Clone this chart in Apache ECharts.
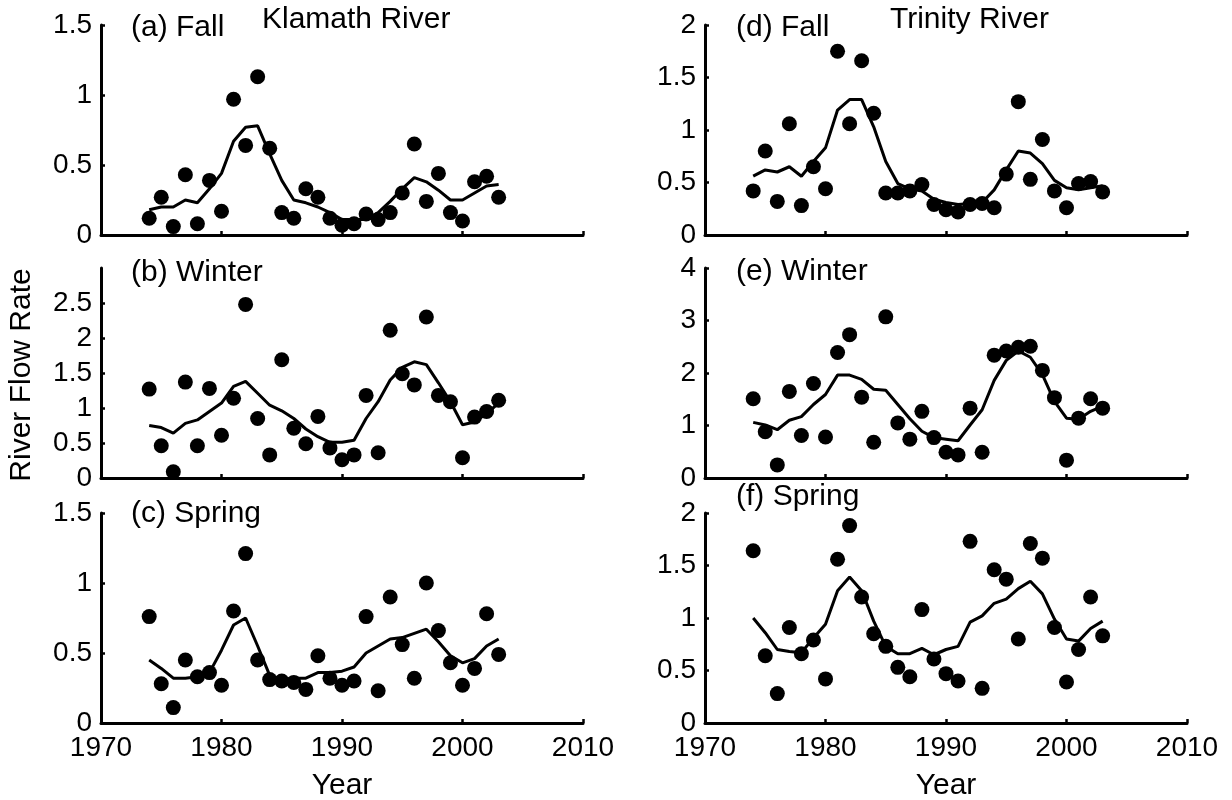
<!DOCTYPE html>
<html>
<head>
<meta charset="utf-8">
<script src="https://cdn.jsdelivr.net/npm/echarts@6/dist/echarts.min.js"></script>
<style>
html,body{margin:0;padding:0;background:#fff;}
#chart{width:1232px;height:800px;}
</style>
</head>
<body>
<div id="chart"></div>
<script>
// ---------- DATA ----------
const years = [1974,1975,1976,1977,1978,1979,1980,1981,1982,1983,1984,1985,1986,1987,1988,1989,1990,1991,1992,1993,1994,1995,1996,1997,1998,1999,2000,2001,2002,2003];
const xTicks = [1970,1980,1990,2000,2010];

const klamathFallObs    = [0.12,0.27,0.06,0.43,0.08,0.39,0.17,0.97,0.64,1.13,0.62,0.16,0.12,0.33,0.27,0.12,0.07,0.08,0.15,0.11,0.16,0.30,0.65,0.24,0.44,0.16,0.10,0.38,0.42,0.27];
const klamathFallSmooth = [0.18,0.20,0.20,0.25,0.23,0.33,0.44,0.67,0.77,0.78,0.58,0.39,0.25,0.23,0.20,0.16,0.11,0.11,0.11,0.16,0.24,0.33,0.41,0.38,0.32,0.25,0.25,0.30,0.35,0.36];

const klamathWinterObs    = [1.27,0.46,0.09,1.37,0.46,1.28,0.61,1.14,2.48,0.85,0.33,1.69,0.71,0.49,0.88,0.43,0.26,0.33,1.18,0.36,2.11,1.49,1.33,2.30,1.18,1.09,0.29,0.87,0.95,1.11];
const klamathWinterSmooth = [0.75,0.72,0.64,0.78,0.83,0.95,1.07,1.31,1.38,1.21,1.04,0.96,0.85,0.70,0.59,0.51,0.51,0.54,0.85,1.09,1.40,1.58,1.66,1.62,1.36,1.09,0.76,0.80,0.92,1.07];

const klamathSpringObs    = [0.76,0.28,0.11,0.45,0.33,0.36,0.27,0.80,1.21,0.45,0.31,0.30,0.29,0.24,0.48,0.32,0.27,0.30,0.76,0.23,0.90,0.56,0.32,1.00,0.66,0.43,0.27,0.39,0.78,0.49];
const klamathSpringSmooth = [0.45,0.39,0.32,0.32,0.33,0.36,0.52,0.70,0.75,0.55,0.34,0.31,0.32,0.32,0.36,0.36,0.37,0.40,0.50,0.55,0.60,0.61,0.64,0.67,0.58,0.48,0.43,0.46,0.55,0.60];

const trinityFallObs    = [0.42,0.80,0.32,1.06,0.28,0.65,0.44,1.75,1.06,1.66,1.16,0.40,0.40,0.42,0.48,0.29,0.24,0.22,0.29,0.30,0.26,0.58,1.27,0.53,0.91,0.42,0.26,0.49,0.51,0.41];
const trinityFallSmooth = [0.56,0.62,0.60,0.65,0.56,0.70,0.83,1.19,1.29,1.29,1.03,0.70,0.49,0.44,0.42,0.34,0.31,0.29,0.30,0.31,0.43,0.62,0.80,0.78,0.68,0.52,0.45,0.43,0.45,0.47];

const trinityWinterObs    = [1.51,0.88,0.25,1.65,0.81,1.80,0.78,2.39,2.73,1.54,0.68,3.07,1.05,0.74,1.27,0.77,0.49,0.44,1.33,0.49,2.34,2.42,2.49,2.51,2.05,1.53,0.34,1.14,1.51,1.33];
const trinityWinterSmooth = [1.06,1.01,0.92,1.10,1.17,1.40,1.59,1.96,1.96,1.88,1.69,1.67,1.40,1.13,0.89,0.77,0.74,0.71,1.01,1.30,1.86,2.24,2.42,2.30,1.97,1.46,1.14,1.12,1.27,1.37];

const trinitySpringObs    = [1.64,0.64,0.28,0.91,0.66,0.79,0.42,1.56,1.88,1.20,0.85,0.73,0.53,0.44,1.08,0.61,0.47,0.40,1.73,0.33,1.46,1.37,0.80,1.71,1.57,0.91,0.39,0.70,1.20,0.83];
const trinitySpringSmooth = [1.00,0.86,0.70,0.68,0.67,0.81,0.94,1.26,1.39,1.26,0.97,0.73,0.66,0.66,0.71,0.65,0.70,0.73,0.96,1.02,1.14,1.18,1.28,1.35,1.23,0.99,0.80,0.78,0.90,0.97];

const panelLabels = ['(a) Fall','(b) Winter','(c) Spring','(d) Fall','(e) Winter','(f) Spring'];
const riverTitles = ['Klamath River','Trinity River'];
const yTicksA = [0,0.5,1,1.5];
const yTicksB = [0,0.5,1,1.5,2,2.5];
const yTicksC = [0,0.5,1,1.5];
const yTicksD = [0,0.5,1,1.5,2];
const yTicksE = [0,1,2,3,4];
const yTicksF = [0,0.5,1,1.5,2];

// ---------- LAYOUT ----------
const FONT = '"Liberation Sans", Arial, Helvetica, sans-serif';
const colLeft = [101, 705];
const colWidth = 482;
const rowTop = [25, 268, 513];
const rowHeight = 210;

const panels = [
  {obs: klamathFallObs,   fit: klamathFallSmooth,   ticks: yTicksA, max: 1.5, interval: 0.5, col:0, row:0, ly: 28},
  {obs: klamathWinterObs, fit: klamathWinterSmooth, ticks: yTicksB, max: 3,   interval: 0.5, col:0, row:1, ly: 273},
  {obs: klamathSpringObs, fit: klamathSpringSmooth, ticks: yTicksC, max: 1.5, interval: 0.5, col:0, row:2, ly: 514},
  {obs: trinityFallObs,   fit: trinityFallSmooth,   ticks: yTicksD, max: 2,   interval: 0.5, col:1, row:0, ly: 28},
  {obs: trinityWinterObs, fit: trinityWinterSmooth, ticks: yTicksE, max: 4,   interval: 1,   col:1, row:1, ly: 272},
  {obs: trinitySpringObs, fit: trinitySpringSmooth, ticks: yTicksF, max: 2,   interval: 0.5, col:1, row:2, ly: 497}
];

const grids = [], xAxes = [], yAxes = [], series = [];
const axisLineStyle = {color:'#000', width:3};
const tickStyle = {color:'#000', width:2.5};

panels.forEach((p, i) => {
  grids.push({left: colLeft[p.col], width: colWidth, top: rowTop[p.row], height: rowHeight, containLabel:false});
  xAxes.push({
    gridIndex:i, type:'value', min:xTicks[0], max:xTicks[xTicks.length-1], interval:10,
    axisLine:{show:true, onZero:false, lineStyle:axisLineStyle},
    axisTick:{show:true, inside:true, length:4, lineStyle:tickStyle},
    axisLabel:{show: p.row===2, color:'#000', fontSize:28, fontFamily:FONT, margin:11, formatter: v => String(v)},
    splitLine:{show:false}
  });
  yAxes.push({
    gridIndex:i, type:'value', min:0, max:p.max, interval:p.interval,
    axisLine:{show:true, onZero:false, lineStyle:axisLineStyle},
    axisTick:{show:true, inside:true, length:4, lineStyle:tickStyle, customValues:p.ticks},
    axisLabel:{color:'#000', fontSize:28, fontFamily:FONT, margin:9, customValues:p.ticks, formatter: v => String(v)},
    splitLine:{show:false}
  });
  series.push({
    type:'scatter', xAxisIndex:i, yAxisIndex:i, symbol:'circle', symbolSize:15,
    itemStyle:{color:'#000', opacity:1}, silent:true,
    data: years.map((y,k)=>[y, p.obs[k]])
  });
  series.push({
    type:'line', xAxisIndex:i, yAxisIndex:i, symbol:'none', showSymbol:false, smooth:false,
    lineStyle:{color:'#000', width:3}, silent:true,
    data: years.map((y,k)=>[y, p.fit[k]])
  });
});

const txt = (text, x, y, opts) => Object.assign({
  type:'text', x, y, silent:true,
  style: Object.assign({text, fill:'#000', font:'30px ' + FONT, textAlign:'left', textVerticalAlign:'middle', align:'left', verticalAlign:'middle'}, opts||{})
});

const graphics = [];
panels.forEach((p,i) => {
  graphics.push(txt(panelLabels[i], colLeft[p.col] + (p.col===0 ? 30 : 31), p.ly));
});
graphics.push(txt(riverTitles[0], 262, 20));
graphics.push(txt(riverTitles[1], 890, 20));
graphics.push(txt('Year', colLeft[0] + colWidth/2, 786, {textAlign:'center', align:'center'}));
graphics.push(txt('Year', colLeft[1] + colWidth/2, 786, {textAlign:'center', align:'center'}));
graphics.push({
  type:'text', x:22, y:375, rotation: Math.PI/2, silent:true,
  style:{text:'River Flow Rate', fill:'#000', font:'30px ' + FONT, textAlign:'center', textVerticalAlign:'middle', align:'center', verticalAlign:'middle'}
});

const chart = echarts.init(document.getElementById('chart'), null, {renderer:'canvas'});
chart.setOption({
  animation:false,
  backgroundColor:'#fff',
  grid: grids,
  xAxis: xAxes,
  yAxis: yAxes,
  series: series,
  graphic: graphics
});
</script>
</body>
</html>
